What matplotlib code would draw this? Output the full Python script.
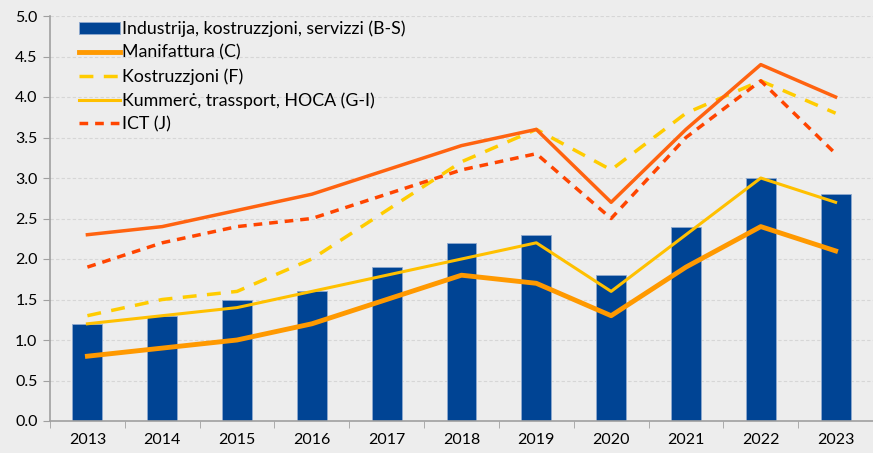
import numpy as np
import matplotlib.pyplot as plt

plt.rcParams['font.family'] = ['Lato', 'DejaVu Sans']

years = ['2013', '2014', '2015', '2016', '2017', '2018', '2019', '2020', '2021', '2022', '2023']
bs_total = [1.2, 1.3, 1.5, 1.6, 1.9, 2.2, 2.3, 1.8, 2.4, 3.0, 2.8]
manifattura = [0.8, 0.9, 1.0, 1.2, 1.5, 1.8, 1.7, 1.3, 1.9, 2.4, 2.1]
kostruzzjoni = [1.3, 1.5, 1.6, 2.0, 2.6, 3.2, 3.6, 3.1, 3.8, 4.2, 3.8]
kummerc = [1.2, 1.3, 1.4, 1.6, 1.8, 2.0, 2.2, 1.6, 2.3, 3.0, 2.7]
ict = [1.9, 2.2, 2.4, 2.5, 2.8, 3.1, 3.3, 2.5, 3.5, 4.2, 3.3]
top_line = [2.3, 2.4, 2.6, 2.8, 3.1, 3.4, 3.6, 2.7, 3.6, 4.4, 4.0]

bg = '#EDEDED'
fig = plt.figure(figsize=(8.73, 4.53), dpi=100, facecolor=bg)
ax = fig.add_axes([50/873, 32/453, 823/873, 405/453], facecolor=bg)

x = np.arange(len(years))
h_bar = ax.bar(x, bs_total, width=0.4, color='#004494', edgecolor='#8FA9CF', linewidth=0.6,
               label='Industrija, kostruzzjoni, servizzi (B-S)', zorder=2)
h_c, = ax.plot(x, manifattura, color='#FF9900', lw=3.5, label='Manifattura (C)', zorder=3)
h_f, = ax.plot(x, kostruzzjoni, color='#FFCC00', lw=2.5, ls=(0, (4, 3)), label='Kostruzzjoni (F)', zorder=3)
h_gi, = ax.plot(x, kummerc, color='#FFC000', lw=2.2, label='Kummerċ, trassport, HOCA (G-I)', zorder=3)
h_j, = ax.plot(x, ict, color='#FF4500', lw=2.5, ls=(0, (2.5, 2)), label='ICT (J)', zorder=3)
ax.plot(x, top_line, color='#FF6310', lw=2.5, zorder=3)

ax.set_xlim(-0.5, 10.3)
ax.set_ylim(0, 5.0)
ax.set_yticks(np.arange(0, 5.01, 0.5))
ax.set_yticklabels([f'{v:.1f}' for v in np.arange(0, 5.01, 0.5)])
ax.set_xticks(x)
ax.set_xticklabels(years)
ax.set_xticks(np.arange(-0.5, 10.6, 1), minor=True)
ax.tick_params(axis='x', which='major', length=0, pad=9, labelsize=11.5)
ax.tick_params(axis='x', which='minor', length=5, color='#A0A0A0')
ax.tick_params(axis='y', length=5, color='#A0A0A0', labelsize=11.5, pad=4)
ax.grid(axis='y', color='#D6D6D6', ls=(0, (3, 2)), lw=0.8, zorder=0)

for side in ['top', 'right']:
    ax.spines[side].set_visible(False)
for side in ['left', 'bottom']:
    ax.spines[side].set_color('#A0A0A0')
    ax.spines[side].set_linewidth(1.2)

ax.legend(handles=[h_bar, h_c, h_f, h_gi, h_j], loc='upper left', bbox_to_anchor=(0.022, 1.015),
          frameon=False, fontsize=12.8, handlelength=2.3, handletextpad=0.15, labelspacing=0.42,
          borderaxespad=0.2)

fig.savefig('out.png', dpi=100, facecolor=bg)
